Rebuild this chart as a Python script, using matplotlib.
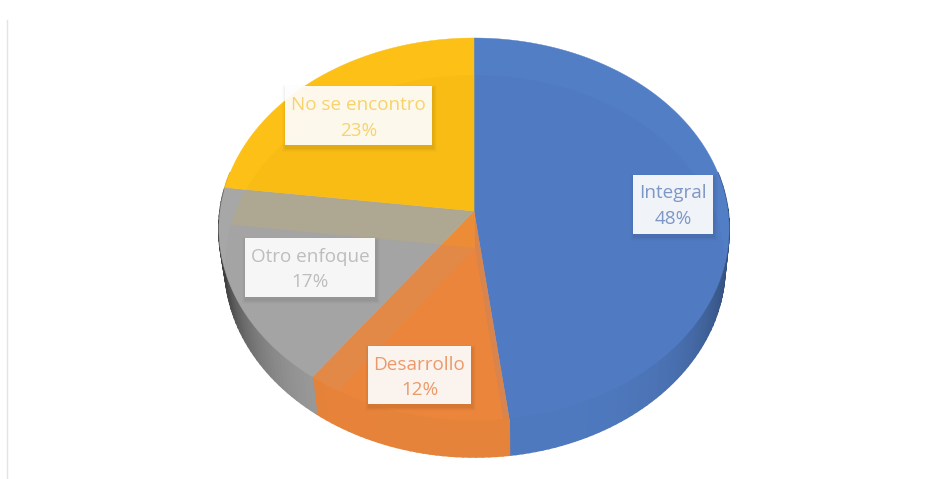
import numpy as np
import matplotlib
matplotlib.use("Agg")
import matplotlib.pyplot as plt
from matplotlib.colors import to_rgb
from matplotlib.patches import Polygon, Rectangle

# Survey shares by approach
categories = ["Integral", "Desarrollo", "Otro enfoque", "No se encontro"]
shares = [48, 12, 17, 23]
colors = ["#527ec6", "#f0883c", "#a7a7a7", "#fdc016"]
text_colors = ["#7d97c6", "#eb9a6a", "#bdbdbd", "#f8d36c"]
label_centers = [(673, 204), (419.5, 375), (310, 267), (358.5, 115.5)]
label_sizes = [(80, 59), (103, 58), (130, 59), (147, 59)]

# Projection of the tilted disc onto the canvas
CX, CY, RX, RY, PERSP = 474.0, 211.0, 254.0, 189.3, 0.0942
DEPTH, WALL_DX, WALL_SCALE = 37.0, 1.0, 0.98


def top_rim(theta):
    u, v = np.sin(theta), np.cos(theta)
    den = 1 + PERSP * v
    return CX + RX * u / den, CY - RY * v / den


def low_rim(theta):
    x, y = top_rim(theta)
    return CX + WALL_DX + WALL_SCALE * (x - CX), y + DEPTH


def sector(rim, start, stop, apex):
    t = np.linspace(start, stop, 160)
    x, y = rim(t)
    return np.column_stack([np.r_[apex[0], x], np.r_[apex[1], y]])


fig = plt.figure(figsize=(9.28, 4.79), dpi=100)
ax = fig.add_axes([0, 0, 1, 1])
ax.set_xlim(0, 928)
ax.set_ylim(479, 0)
ax.axis("off")

# Pale rule on the left margin
ax.plot([7, 7], [20, 479], color="#e4e4e4", lw=1)

edges = np.r_[0, np.cumsum(shares)] / np.sum(shares) * 2 * np.pi
spans = list(zip(edges[:-1], edges[1:]))

# Side wall, shaded towards the silhouette
for (a, b), col in zip(spans, colors):
    lo, hi = max(a, np.radians(78)), min(b, np.radians(282))
    if hi <= lo:
        continue
    steps = np.linspace(lo, hi, int((hi - lo) * 40) + 2)
    base = np.array(to_rgb(col))
    strength = 0.62 if col == colors[2] else 0.36 if col == colors[0] else 0.08
    for t0, t1 in zip(steps[:-1], steps[1:]):
        tm = np.array([t0, t1])
        xt, yt = top_rim(tm)
        xl, yl = low_rim(tm)
        shade = 0.96 - strength * abs(np.sin((t0 + t1) / 2)) ** 5
        ax.add_patch(Polygon(np.column_stack([np.r_[xt, xl[::-1]], np.r_[yt, yl[::-1]]]),
                             closed=True, fc=base * shade, ec=base * shade, lw=1.2, zorder=3))

# Top face
top_outline = np.column_stack(top_rim(np.linspace(0, 2 * np.pi, 480)))
for (a, b), col in zip(spans, colors):
    ax.add_patch(Polygon(sector(top_rim, a, b, (CX, CY)), closed=True,
                         fc=col, ec=col, lw=0.3, zorder=4))

# Lower face showing faintly through the top
clip = Polygon(top_outline, closed=True, transform=ax.transData)
for (a, b), col in zip(spans, colors):
    ghost = np.array(to_rgb(col)) * 0.88
    patch = Polygon(sector(low_rim, a, b, (CX + WALL_DX, CY + DEPTH)), closed=True,
                    fc=ghost, ec="none", alpha=0.14, zorder=5)
    ax.add_patch(patch)
    patch.set_clip_path(clip)

# Value labels on white boxes with a soft drop shadow
for name, share, tc, (lx, ly), (w, h) in zip(categories, shares, text_colors,
                                             label_centers, label_sizes):
    for grow, al in zip((4, 3, 2, 1), (0.012, 0.018, 0.025, 0.03)):
        ax.add_patch(Rectangle((lx - w / 2 - grow + 1, ly - h / 2 - grow + 3), w + 2 * grow, h + 2 * grow,
                               fc="#000000", ec="none", alpha=al, zorder=6))
    ax.add_patch(Rectangle((lx - w / 2, ly - h / 2), w, h, fc="white", ec="none",
                           alpha=0.92, zorder=7))
    ax.text(lx, ly - 10.5, name, ha="center", va="center", fontsize=13.6,
            family="Open Sans", color=tc, zorder=8)
    ax.text(lx, ly + 15, f"{share}%", ha="center", va="center", fontsize=13.6,
            family="Open Sans", color=tc, zorder=8)

fig.savefig("out.png", dpi=100, facecolor="white")
